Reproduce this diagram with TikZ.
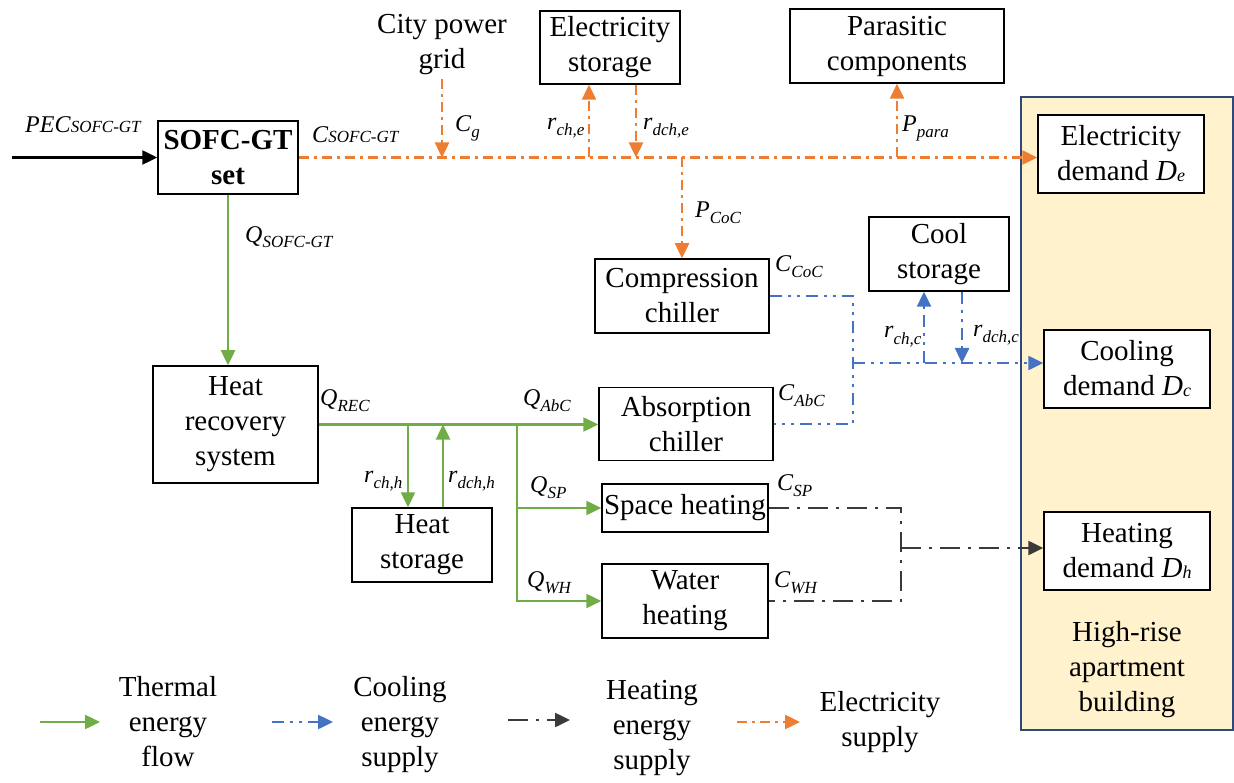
\documentclass[tikz,border=0pt]{standalone}
\usepackage{fontspec}
\setmainfont{Liberation Serif}
\usetikzlibrary{arrows.meta}
\definecolor{thermgreen}{HTML}{70AD47}
\definecolor{coolblue}{HTML}{4472C4}
\definecolor{elecorange}{HTML}{ED7D31}
\definecolor{heatgray}{HTML}{3A3A3A}
\definecolor{bldgfill}{HTML}{FFF2CC}
\definecolor{bldgedge}{HTML}{2F4A7A}
\newcommand{\lab}[3][6pt]{\fontsize{24}{28}\selectfont\textit{#2}\raisebox{-#1}{\fontsize{17}{20}\selectfont\textit{#3}}}
\newcommand{\dem}[1]{\textit{D}\raisebox{-1pt}{\fontsize{18}{20}\selectfont\textit{#1}}}

\begin{document}
\begin{tikzpicture}[x=1pt, y=-1pt, font=\fontsize{29}{35}\selectfont]
    \tikzstyle{unitbox}=[draw=black, line width=1.5pt, fill=white, inner sep=0pt, align=center]
    \tikzstyle{var}=[inner sep=0pt, anchor=base west]
    \tikzstyle{plain}=[inner sep=0pt, align=center]
    \tikzstyle{flow}=[line width=2.5pt, -{Triangle[length=15pt,width=14pt]}]
    \tikzstyle{thermal}=[flow, thermgreen]
    \tikzstyle{cooling}=[flow, coolblue, dash pattern=on 12pt off 6pt on 3pt off 6pt on 3pt off 6pt]
    \tikzstyle{heating}=[flow, heatgray, dash pattern=on 20pt off 8pt on 3pt off 8pt]
    \tikzstyle{electric}=[flow, elecorange, dash pattern=on 10pt off 5pt on 3pt off 5pt]

    \useasboundingbox (0,0) rectangle (1234,783);

    \node[draw=bldgedge, line width=2pt, fill=bldgfill, minimum width=212pt, minimum height=633pt, inner sep=0pt] (bldg) at (1127,413.5) {};
    \node[plain] (bldglabel) at (1127,670) {High-rise\\apartment\\building};

    \node[unitbox, minimum width=140pt, minimum height=73pt] (sofc) at (228,157.5) {\textbf{SOFC-GT}\\\textbf{set}};
    \node[unitbox, minimum width=140pt, minimum height=73pt] (estor) at (610,47.5) {Electricity\\storage};
    \node[unitbox, minimum width=214pt, minimum height=74pt] (para) at (897,46) {Parasitic\\components};
    \node[unitbox, minimum width=174pt, minimum height=74pt] (coc) at (682,296) {Compression\\chiller};
    \node[unitbox, minimum width=174pt, minimum height=73pt] (abc) at (686,424) {Absorption\\chiller};
    \node[unitbox, minimum width=140pt, minimum height=74pt] (cool) at (939,254) {Cool\\storage};
    \node[unitbox, minimum width=165pt, minimum height=117pt] (hrs) at (235.5,424.5) {Heat\\recovery\\system};
    \node[unitbox, minimum width=140pt, minimum height=74pt] (hstor) at (422,545) {Heat\\storage};
    \node[unitbox, minimum width=166pt, minimum height=48pt] (sph) at (685,508) {Space heating};
    \node[unitbox, minimum width=166pt, minimum height=74pt] (wh) at (685,601) {Water\\heating};
    \node[unitbox, minimum width=166pt, minimum height=78pt] (eldem) at (1121,154) {Electricity\\demand \dem{e}};
    \node[unitbox, minimum width=166pt, minimum height=78pt] (cdem) at (1127,369) {Cooling\\demand \dem{c}};
    \node[unitbox, minimum width=166pt, minimum height=78pt] (hdem) at (1127,551) {Heating\\demand \dem{h}};
    \node[plain, inner sep=4pt] (grid) at (442,44.5) {City power\\grid};

    \coordinate (pecin) at (12,157.5);
    \draw[flow] (pecin) -- (sofc.west);

    \draw[electric] (sofc.east) -- (sofc.east -| eldem.west);
    \draw[electric] (grid.south) -- (grid.south |- sofc.east);
    \draw[electric] ([xshift=-21pt]estor.south |- sofc.east) -- ([xshift=-21pt]estor.south);
    \draw[electric] ([xshift=26pt]estor.south) -- ([xshift=26pt]estor.south |- sofc.east);
    \draw[electric] (para.south |- sofc.east) -- (para.south);
    \draw[electric] (coc.north |- sofc.east) -- (coc.north);

    \draw[thermal] (sofc.south) -- (sofc.south |- hrs.north);
    \draw[thermal] (hrs.east) -- (hrs.east -| abc.west);
    \draw[thermal] ([xshift=-14pt]hstor.north |- hrs.east) -- ([xshift=-14pt]hstor.north);
    \draw[thermal] ([xshift=21pt]hstor.north) -- ([xshift=21pt]hstor.north |- hrs.east);
    \coordinate (hsplit) at (517,424.5);
    \draw[thermal] (hsplit) |- (wh.west);
    \draw[thermal] (hsplit |- sph.west) -- (sph.west);

    \coordinate (cmerge) at (853,363);
    \draw[cooling, -] (coc.east) -| (cmerge) |- (abc.east);
    \draw[cooling] (cmerge) -- (cmerge -| cdem.west);
    \draw[cooling] ([xshift=-15pt]cool.south |- cmerge) -- ([xshift=-15pt]cool.south);
    \draw[cooling] ([xshift=23pt]cool.south) -- ([xshift=23pt]cool.south |- cmerge);

    \coordinate (hmerge) at (901,548);
    \draw[heating, -] (sph.east) -| (hmerge) |- (wh.east);
    \draw[heating] (hmerge) -- (hmerge -| hdem.west);

    \node[var] (lPEC) at (25,133) {\lab[0pt]{PEC}{SOFC-GT}};
    \node[var] (lCsofc) at (312,143) {\lab[0pt]{C}{SOFC-GT}};
    \node[var] (lQsofc) at (245,243) {\lab[5pt]{Q}{SOFC-GT}};
    \node[var] (lCg) at (455,132) {\lab{C}{g}};
    \node[var] (lrche) at (547,130) {\lab{r}{ch,e}};
    \node[var] (lrdche) at (643,130) {\lab{r}{dch,e}};
    \node[var] (lPpara) at (902,132) {\lab{P}{para}};
    \node[var] (lPcoc) at (695,218) {\lab{P}{CoC}};
    \node[var] (lCcoc) at (775,272) {\lab{C}{CoC}};
    \node[var] (lrchc) at (884,338) {\lab{r}{ch,c}};
    \node[var] (lrdchc) at (973,337) {\lab{r}{dch,c}};
    \node[var] (lCabc) at (778,400) {\lab{C}{AbC}};
    \node[var] (lQrec) at (320,405) {\lab{Q}{REC}};
    \node[var] (lQabc) at (523,405) {\lab{Q}{AbC}};
    \node[var] (lrchh) at (364,482) {\lab{r}{ch,h}};
    \node[var] (lrdchh) at (448,482) {\lab{r}{dch,h}};
    \node[var] (lQsp) at (530,492) {\lab{Q}{SP}};
    \node[var] (lQwh) at (527,587) {\lab{Q}{WH}};
    \node[var] (lCsp) at (777,490) {\lab{C}{SP}};
    \node[var] (lCwh) at (774,587) {\lab{C}{WH}};

    \coordinate (lgTa) at (40,722);
    \coordinate (lgTb) at (100,722);
    \draw[thermal] (lgTa) -- (lgTb);
    \node[plain] (lgT) at (168,722) {Thermal\\energy\\flow};
    \coordinate (lgCa) at (272,722);
    \coordinate (lgCb) at (333,722);
    \draw[cooling] (lgCa) -- (lgCb);
    \node[plain] (lgC) at (400,725) {Cooling\\energy\\supply};
    \coordinate (lgHa) at (508,720);
    \coordinate (lgHb) at (570,720);
    \draw[heating] (lgHa) -- (lgHb);
    \node[plain] (lgH) at (652,728) {Heating\\energy\\supply};
    \coordinate (lgEa) at (737,722);
    \coordinate (lgEb) at (800,722);
    \draw[electric] (lgEa) -- (lgEb);
    \node[plain] (lgE) at (880,722) {Electricity\\supply};
\end{tikzpicture}
\end{document}
